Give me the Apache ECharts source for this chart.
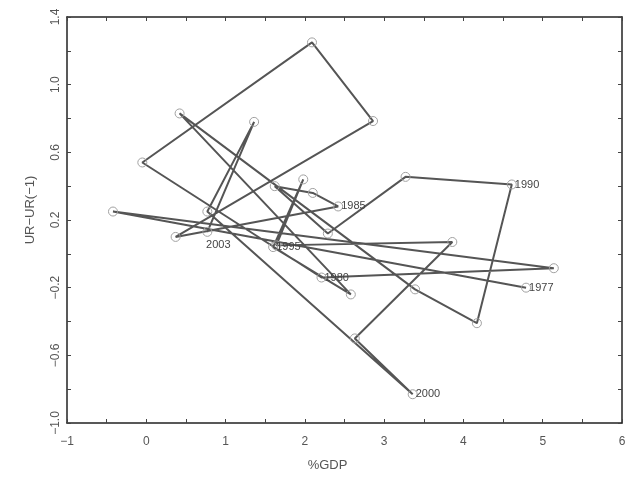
<!DOCTYPE html>
<html lang="en">
<head>
  <meta charset="UTF-8">
  <title>UR change vs %GDP</title>
  <script src="https://cdn.jsdelivr.net/npm/echarts@6/dist/echarts.min.js"></script>
  <style>
    body { margin: 0; background: #fff; }
    #chart { width: 629px; height: 479px; }
  </style>
</head>
<body>
<div id="chart"></div>
<script>
  // path of yearly observations, 1977-2003
  const years = [1977, 1978, 1979, 1980, 1981, 1982, 1983, 1984, 1985, 1986,
    1987, 1988, 1989, 1990, 1991, 1992, 1993, 1994, 1995, 1996,
    1997, 1998, 1999, 2000, 2001, 2002, 2003];
  const gdp = [4.79, -0.42, 5.14, 2.21, -0.05, 2.09, 2.86, 0.37, 2.42, 2.10,
    1.62, 2.29, 3.27, 4.61, 4.17, 3.39, 0.42, 2.58, 1.60, 1.98,
    1.64, 3.86, 2.63, 3.36, 0.77, 1.36, 0.77];
  const dUR = [-0.20, 0.25, -0.085, -0.14, 0.54, 1.25, 0.785, 0.10, 0.28, 0.36,
    0.40, 0.12, 0.455, 0.41, -0.41, -0.21, 0.83, -0.24, 0.04, 0.44,
    0.05, 0.07, -0.50, -0.83, 0.25, 0.78, 0.13];
  const labelled = [1977, 1980, 1985, 1990, 1995, 2000, 2003];

  const minus = s => String(s).replace('-', '\u2212');
  const pts = years.map((y, i) => {
    const p = { value: [gdp[i], dUR[i]] };
    if (labelled.includes(y)) {
      p.label = { show: true, formatter: String(y) };
      if (y === 2003) p.label.position = 'bottom';
      if (y === 2003) p.label.offset = [11, 5];
    }
    return p;
  });

  const frame = { show: true, onZero: false, lineStyle: { color: '#222', width: 1.5 } };
  const ticks = { show: true, inside: true, length: 4, lineStyle: { color: '#444' } };

  echarts.init(document.getElementById('chart')).setOption({
    animation: false,
    grid: { left: 67, right: 7, top: 17, bottom: 56 },
    xAxis: [{
      type: 'value', min: -1, max: 6, interval: 0.5,
      name: '%GDP', nameLocation: 'middle', nameGap: 36,
      nameTextStyle: { color: '#555', fontSize: 13, padding: [0, 34, 0, 0] },
      axisLine: frame, axisTick: ticks, splitLine: { show: false },
      axisLabel: {
        color: '#555', fontSize: 12, margin: 13,
        formatter: v => Number.isInteger(v) ? minus(v) : ''
      }
    }, {
      type: 'value', position: 'top', min: -1, max: 6, interval: 0.5,
      axisLine: frame, axisTick: ticks, axisLabel: { show: false }, splitLine: { show: false }
    }],
    yAxis: [{
      type: 'value', min: -1.0, max: 1.4, interval: 0.2,
      name: 'UR\u2212UR(\u22121)', nameLocation: 'middle', nameGap: 30, nameRotate: 90,
      nameTextStyle: { color: '#555', fontSize: 13, padding: [0, 0, 0, 20] },
      axisLine: frame, axisTick: ticks, splitLine: { show: false },
      axisLabel: {
        color: '#555', fontSize: 12, rotate: 90, margin: 5,
        formatter: v => Math.round((v + 1) / 0.2) % 2 === 0 ? minus(v.toFixed(1)) : ''
      }
    }, {
      type: 'value', position: 'right', min: -1.0, max: 1.4, interval: 0.2,
      axisLine: frame, axisTick: ticks, axisLabel: { show: false }, splitLine: { show: false }
    }],
    series: [{
      type: 'line',
      data: pts,
      symbol: 'circle',
      symbolSize: 9,
      itemStyle: { color: 'rgba(255,255,255,0)', borderColor: '#a0a0a0', borderWidth: 1 },
      lineStyle: { color: '#555', width: 2 },
      label: {
        position: 'right', distance: -2,
        color: '#444', fontSize: 11, fontFamily: 'Liberation Sans'
      },
      z: 3
    }]
  });
</script>
</body>
</html>
